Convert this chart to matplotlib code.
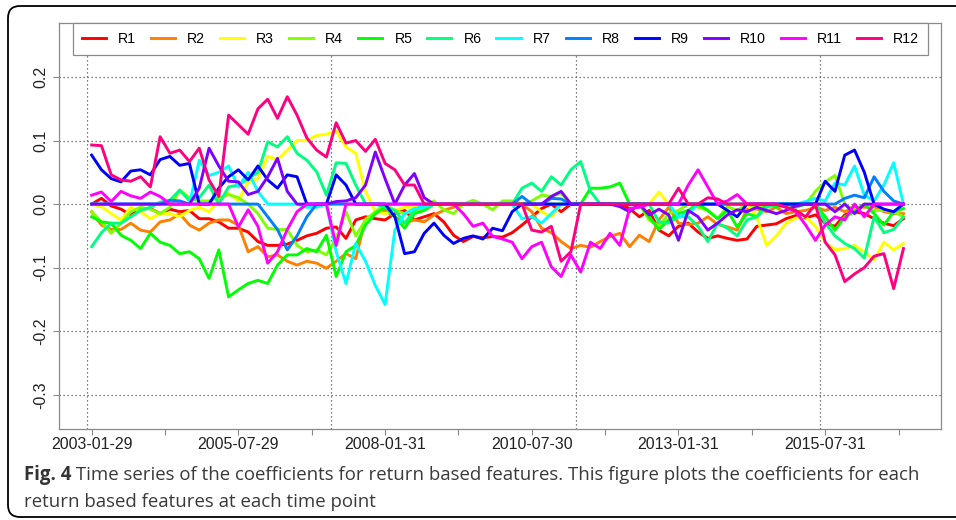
import numpy as np
import matplotlib
matplotlib.use("Agg")
import matplotlib.pyplot as plt
from matplotlib.path import Path
from matplotlib.patches import PathPatch

plt.rcParams["savefig.bbox"] = "standard"

# month index (1 = 2003-01-29), one sample every second month
idx = np.arange(1, 168, 2)

r1 = [0.0, 0.009, -0.003, -0.008, -0.017, -0.008, -0.007, -0.015, -0.008, -0.012,
      -0.01, -0.023, -0.023, -0.028, -0.038, -0.038, -0.044, -0.059, -0.065, -0.065,
      -0.063, -0.057, -0.05, -0.046, -0.038, -0.036, -0.054, -0.025, -0.02, -0.023,
      -0.025, -0.015, -0.01, -0.025, -0.02, -0.015, -0.028, -0.049, -0.059, -0.051,
      -0.053, -0.051, -0.052, -0.045, -0.033, -0.02, -0.007, 0.0, -0.012, 0.0,
      0.0, 0.0, 0.0, 0.0, 0.0, -0.007, -0.02, -0.01, -0.041, -0.05,
      -0.035, -0.03, -0.044, -0.054, -0.05, -0.054, -0.057, -0.055, -0.035, -0.033,
      -0.031, -0.023, -0.018, -0.022, -0.017, -0.03, -0.035, -0.017, -0.012, -0.015,
      -0.023, -0.03, -0.034, -0.023]
r2 = [-0.012, -0.033, -0.04, -0.04, -0.03, -0.041, -0.044, -0.028, -0.025, -0.015,
      -0.033, -0.041, -0.03, -0.025, -0.025, -0.033, -0.075, -0.067, -0.083, -0.08,
      -0.09, -0.096, -0.09, -0.093, -0.101, -0.09, -0.078, -0.086, -0.023, -0.015,
      -0.01, -0.02, -0.03, -0.025, -0.028, -0.017, -0.01, -0.005, 0.0, 0.0,
      0.0, 0.0, 0.0, 0.0, 0.0, -0.012, -0.038, -0.045, -0.059, -0.07,
      -0.065, -0.068, -0.059, -0.051, -0.046, -0.067, -0.049, -0.059, -0.025, -0.005,
      -0.03, -0.032, -0.03, -0.02, -0.032, -0.036, -0.041, -0.008, -0.008, -0.012,
      -0.005, -0.015, -0.012, -0.01, -0.005, -0.01, -0.005, -0.012, -0.005, -0.005,
      -0.004, -0.012, -0.015, -0.015]
r3 = [0.0, -0.004, -0.015, -0.025, -0.005, -0.012, -0.023, -0.015, -0.015, -0.02,
      -0.01, -0.005, -0.012, 0.006, 0.017, 0.005, 0.035, 0.04, 0.075, 0.07,
      0.085, 0.1, 0.1, 0.108, 0.11, 0.115, 0.09, 0.08, 0.02, -0.012,
      -0.015, -0.01, -0.005, -0.005, 0.0, 0.0, 0.0, 0.0, 0.0, 0.0,
      0.0, 0.0, 0.0, 0.0, 0.0, 0.0, -0.012, -0.02, 0.0, 0.0,
      0.0, 0.0, 0.0, 0.0, 0.0, 0.0, 0.0, 0.0, 0.019, 0.0,
      0.0, 0.0, 0.0, 0.0, 0.0, 0.0, 0.0, 0.0, -0.02, -0.065,
      -0.05, -0.03, -0.022, -0.02, -0.035, -0.06, -0.072, -0.07, -0.065, -0.075,
      -0.088, -0.06, -0.072, -0.062]
r4 = [-0.012, -0.028, -0.046, -0.03, -0.012, -0.005, -0.008, -0.015, -0.005, 0.022,
      0.01, 0.005, 0.005, 0.01, 0.015, 0.01, 0.0, -0.015, -0.038, -0.04,
      -0.04, -0.065, -0.075, -0.072, -0.08, -0.054, -0.012, -0.05, -0.025, -0.012,
      0.0, -0.01, -0.015, -0.01, -0.005, 0.005, -0.009, -0.015, 0.0, 0.006,
      0.0, -0.009, 0.005, 0.005, 0.0, 0.005, 0.014, 0.012, 0.017, 0.0,
      0.0, 0.0, 0.0, 0.0, 0.0, 0.0, 0.0, -0.025, -0.035, -0.015,
      -0.01, 0.0, -0.005, -0.01, -0.023, -0.004, -0.01, 0.0, -0.005, 0.0,
      -0.005, 0.0, 0.0, 0.0, 0.02, 0.035, 0.045, 0.0, -0.01, 0.0,
      -0.01, -0.01, -0.012, -0.02]
r5 = [-0.02, -0.028, -0.03, -0.049, -0.057, -0.07, -0.046, -0.06, -0.065, -0.078,
      -0.075, -0.086, -0.117, -0.072, -0.146, -0.135, -0.125, -0.12, -0.125, -0.096,
      -0.08, -0.08, -0.07, -0.075, -0.049, -0.114, -0.075, -0.065, -0.033, -0.015,
      -0.005, -0.02, -0.038, -0.015, -0.01, 0.0, 0.0, 0.0, 0.0, 0.0,
      0.0, 0.0, 0.0, 0.0, 0.0, 0.0, 0.0, 0.0, 0.0, 0.0,
      0.0, 0.025, 0.025, 0.027, 0.033, 0.0, 0.0, -0.02, -0.04, -0.025,
      -0.015, -0.01, 0.0, -0.01, -0.023, -0.01, -0.036, -0.015, -0.02, 0.0,
      -0.005, 0.0, -0.005, 0.0, 0.0, -0.02, -0.041, -0.02, -0.012, 0.0,
      -0.015, -0.033, -0.012, -0.007]
r6 = [-0.067, -0.045, -0.03, -0.03, -0.02, -0.01, -0.005, 0.003, 0.006, 0.022,
      0.005, 0.01, 0.03, 0.0, 0.027, 0.03, 0.04, 0.05, 0.098, 0.09,
      0.106, 0.08, 0.069, 0.051, 0.014, 0.065, 0.064, 0.03, 0.0, 0.0,
      -0.005, -0.01, -0.03, -0.01, 0.0, 0.0, 0.0, 0.0, 0.0, 0.0,
      0.0, 0.0, 0.0, 0.0, 0.025, 0.033, 0.02, 0.043, 0.03, 0.054,
      0.067, 0.02, 0.0, 0.0, 0.0, 0.0, 0.0, 0.0, -0.028, -0.03,
      -0.02, -0.02, -0.035, -0.059, -0.03, -0.038, -0.05, -0.025, -0.02, -0.005,
      0.0, 0.0, 0.0, 0.0, 0.0, -0.03, -0.05, -0.062, -0.07, -0.085,
      -0.02, -0.045, -0.04, -0.02]
r7 = [0.0, 0.0, 0.0, 0.0, 0.0, 0.0, 0.0, 0.0, 0.0, 0.0,
      0.0, 0.069, 0.045, 0.05, 0.06, 0.027, 0.05, 0.02, 0.0, 0.0,
      0.0, 0.0, -0.005, -0.005, 0.0, -0.075, -0.125, -0.062, -0.09, -0.128,
      -0.158, -0.041, -0.015, -0.007, -0.005, 0.0, 0.0, 0.0, 0.0, 0.0,
      0.0, 0.0, 0.0, 0.0, -0.023, -0.02, -0.03, -0.015, 0.0, 0.0,
      0.0, 0.0, 0.0, 0.0, 0.0, 0.0, 0.0, 0.0, 0.0, 0.0,
      -0.02, -0.015, 0.0, 0.0, 0.0, 0.0, 0.0, 0.0, 0.0, 0.0,
      0.0, 0.0, 0.0, 0.004, 0.009, 0.005, 0.033, 0.03, 0.06, 0.014,
      0.005, 0.03, 0.065, 0.0]
r8 = [0.0, 0.0, 0.0, 0.0, 0.0, 0.0, 0.0, 0.0, 0.006, 0.005,
      0.0, 0.0, 0.0, 0.0, 0.0, 0.0, 0.0, 0.0, -0.02, -0.04,
      -0.072, -0.05, -0.02, 0.0, 0.0, 0.0, 0.0, 0.0, 0.0, 0.0,
      0.0, 0.0, 0.0, 0.0, 0.0, 0.0, 0.0, 0.0, 0.0, 0.0,
      0.0, 0.0, 0.0, 0.0, 0.012, 0.0, 0.0, 0.009, 0.008, 0.0,
      0.0, 0.0, 0.0, 0.0, 0.0, 0.0, 0.0, 0.0, 0.0, 0.0,
      0.0, 0.0, 0.0, 0.0, 0.0, 0.0, 0.0, 0.0, 0.0, 0.0,
      0.0, 0.0, 0.0, 0.0, 0.0, 0.0, 0.0, 0.009, 0.014, 0.01,
      0.043, 0.02, 0.005, 0.0]
r9 = [0.077, 0.054, 0.04, 0.035, 0.052, 0.054, 0.046, 0.07, 0.075, 0.061,
      0.064, 0.0, 0.0, 0.025, 0.043, 0.054, 0.038, 0.06, 0.038, 0.025,
      0.046, 0.043, 0.0, 0.0, 0.0, 0.046, 0.03, 0.0, 0.0, 0.0,
      0.0, -0.02, -0.078, -0.075, -0.046, -0.03, -0.049, -0.062, -0.054, -0.05,
      -0.055, -0.038, -0.042, -0.012, 0.0, 0.0, 0.0, 0.0, 0.0, 0.0,
      0.0, 0.0, 0.0, 0.0, 0.0, 0.0, 0.0, 0.0, 0.0, 0.0,
      0.0, 0.0, 0.0, 0.0, 0.0, -0.01, -0.02, 0.0, 0.0, 0.0,
      0.0, 0.0, 0.0, 0.0, 0.0, 0.036, 0.02, 0.077, 0.085, 0.05,
      0.0, -0.008, -0.012, 0.0]
r10 = [0.0, 0.0, 0.0, 0.0, 0.0, 0.0, 0.0, 0.0, 0.0, 0.0,
       0.0, 0.025, 0.088, 0.06, 0.036, 0.035, 0.015, 0.02, 0.043, 0.072,
       0.02, 0.0, 0.0, 0.0, 0.0, 0.004, 0.005, 0.01, 0.03, 0.082,
       0.04, 0.0, 0.03, 0.048, 0.01, 0.0, 0.0, 0.0, 0.0, 0.0,
       0.0, 0.0, 0.0, 0.0, 0.0, 0.0, 0.0, 0.012, 0.02, 0.0,
       0.0, 0.0, 0.0, 0.0, -0.004, -0.012, 0.0, -0.017, -0.008, -0.017,
       -0.057, -0.01, -0.02, -0.041, -0.03, -0.017, -0.009, -0.012, -0.005, -0.01,
       -0.015, -0.01, -0.003, 0.0, 0.0, 0.0, -0.012, 0.0, -0.015, 0.0,
       0.0, 0.0, 0.0, 0.0]
r11 = [0.014, 0.019, 0.004, 0.02, 0.013, 0.009, 0.019, 0.012, 0.0, 0.0,
       0.0, 0.0, 0.0, 0.0, 0.0, -0.036, -0.009, -0.035, -0.093, -0.075,
       -0.04, -0.012, 0.0, 0.0, 0.0, -0.065, 0.0, 0.0, 0.0, 0.0,
       0.0, 0.0, 0.0, 0.0, 0.0, 0.0, 0.0, 0.0, -0.015, -0.035,
       -0.03, -0.051, -0.055, -0.06, -0.086, -0.067, -0.06, -0.099, -0.114, -0.08,
       -0.107, -0.06, -0.07, -0.046, -0.065, -0.007, -0.005, 0.0, 0.0, 0.0,
       0.0, 0.03, 0.054, 0.027, 0.0, 0.005, 0.015, 0.0, 0.0, 0.0,
       0.0, -0.005, -0.012, -0.033, -0.057, -0.033, -0.02, -0.025, 0.0, -0.02,
       0.0, 0.0, 0.0, 0.0]
r12 = [0.093, 0.092, 0.046, 0.038, 0.036, 0.043, 0.027, 0.106, 0.08, 0.085,
       0.067, 0.088, 0.038, 0.012, 0.14, 0.125, 0.11, 0.15, 0.165, 0.135,
       0.169, 0.14, 0.104, 0.085, 0.074, 0.128, 0.096, 0.1, 0.083, 0.102,
       0.064, 0.054, 0.03, 0.03, 0.0, 0.0, 0.0, 0.0, 0.0, 0.0,
       0.0, 0.0, 0.0, 0.0, 0.0, -0.041, -0.044, -0.035, -0.09, -0.075,
       0.0, 0.0, 0.0, 0.0, 0.0, 0.0, 0.0, 0.0, 0.0, 0.0,
       0.025, 0.0, 0.0, 0.01, 0.008, 0.0, 0.0, 0.0, 0.0, 0.0,
       0.0, -0.005, -0.01, -0.02, 0.0, -0.06, -0.08, -0.122, -0.11, -0.1,
       -0.082, -0.078, -0.133, -0.07]

series = [r1, r2, r3, r4, r5, r6, r7, r8, r9, r10, r11, r12]
names = ["R1", "R2", "R3", "R4", "R5", "R6", "R7", "R8", "R9", "R10", "R11", "R12"]
colors = ["#FF0000", "#FF8000", "#FFFF00", "#80FF00", "#00FF00", "#00FF80",
          "#00FFFF", "#0080FF", "#0000FF", "#8000FF", "#FF00FF", "#FF0080"]

tick_pos = [1, 16, 31, 46, 61, 76, 91, 106, 121, 136, 151, 166]
tick_labels = ["2003-01-29", "", "2005-07-29", "", "2008-01-31", "",
               "2010-07-30", "", "2013-01-31", "", "2015-07-31", ""]
grid_x = [0, 50, 100, 150]
grid_y = [-0.3, -0.2, -0.1, 0.0, 0.1, 0.2]

caption_bold = "Fig. 4"
caption_1 = " Time series of the coefficients for return based features. This figure plots the coefficients for each"
caption_2 = "return based features at each time point"

W, H = 956, 520
fig = plt.figure(figsize=(W / 100, H / 100), dpi=100)
ax = fig.add_axes([59 / W, 1 - 429 / H, 882 / W, 406 / H])

axis_font = "Liberation Sans"
for gx in grid_x:
    ax.axvline(gx, color="#555555", lw=0.9, ls=(0, (1, 2.2)), zorder=1)
for gy in grid_y:
    ax.axhline(gy, color="#555555", lw=0.9, ls=(0, (1, 2.2)), zorder=1)

handles = []
for vals, name, col in zip(series, names, colors):
    ln, = ax.plot(idx, vals, color=col, lw=2.1, label=name, zorder=2)
    handles.append(ln)

ax.set_xlim(-5.68, 174.68)
ax.set_ylim(-0.354, 0.285)
ax.set_xticks(tick_pos)
ax.set_xticklabels(tick_labels, fontfamily=axis_font, fontsize=11.5, color="#222222")
ax.set_yticks(grid_y)
ax.set_yticklabels([f"{v:.1f}" for v in grid_y], rotation=90, va="center",
                   fontfamily=axis_font, fontsize=11.5, color="#222222")
ax.tick_params(axis="x", length=4, width=0.8, color="#888888", pad=1.5)
ax.tick_params(axis="y", length=4, width=0.8, color="#888888", pad=4)
for sp in ax.spines.values():
    sp.set_color("#8a8a8a")
    sp.set_linewidth(0.9)

leg = ax.legend(handles=handles, ncol=12, loc="upper left",
                bbox_to_anchor=(14 / 882, 0, 855 / 882, 1.0), mode="expand",
                borderaxespad=0, fancybox=False, framealpha=1, edgecolor="#8a8a8a",
                handlelength=1.7, handletextpad=0.85, borderpad=0.62,
                prop={"family": axis_font, "size": 10.2})
leg.get_frame().set_linewidth(0.9)
leg.set_zorder(5)

# outer frame of the figure panel: rounded left corners, open to the right edge
fx = lambda px: px / W
fy = lambda py: 1 - py / H
r = 12
verts = [(fx(W + 5), fy(6)), (fx(8 + r), fy(6)),
         (fx(8), fy(6)), (fx(8), fy(6 + r)),
         (fx(8), fy(517 - r)),
         (fx(8), fy(517)), (fx(8 + r), fy(517)),
         (fx(W + 5), fy(517))]
codes = [Path.MOVETO, Path.LINETO, Path.CURVE3, Path.CURVE3, Path.LINETO,
         Path.CURVE3, Path.CURVE3, Path.LINETO]
frame = PathPatch(Path(verts, codes), transform=fig.transFigure,
                  fill=False, ec="black", lw=1.3)
fig.add_artist(frame)

# caption, bold label followed by regular text
cap_font = "Open Sans"
cap_size = 12.0
renderer = fig.canvas.get_renderer()
probe = fig.text(0, 0, caption_bold + caption_1, fontsize=cap_size, family=cap_font)
w = probe.get_window_extent(renderer).width
probe.remove()
cap_size = cap_size * 889 / w

tb = fig.text(24 / W, 1 - 480 / H, caption_bold, fontsize=cap_size, family=cap_font,
              fontweight="bold", color="#333333", va="baseline")
bb = tb.get_window_extent(renderer)
fig.text(bb.x1 / W, 1 - 480 / H, caption_1, fontsize=cap_size, family=cap_font,
         color="#3a3a3a", va="baseline")
fig.text(24 / W, 1 - 507 / H, caption_2, fontsize=cap_size, family=cap_font,
         color="#3a3a3a", va="baseline")

fig.savefig("out.png", dpi=100)
